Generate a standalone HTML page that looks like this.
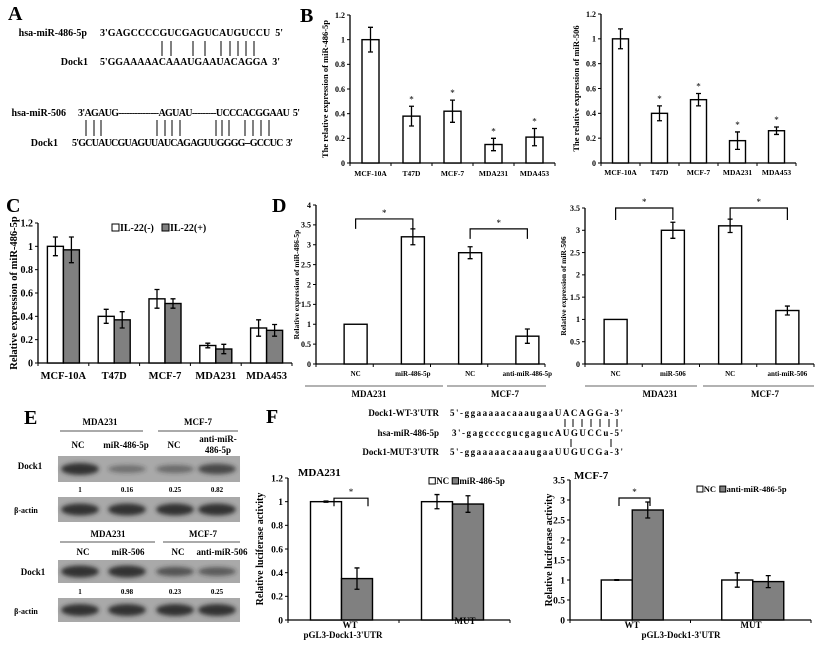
<!DOCTYPE html>
<html><head><meta charset="utf-8">
<style>
html,body{margin:0;padding:0;background:#fff;}
svg{display:block;font-family:"Liberation Serif",serif;font-weight:bold;}
</style></head>
<body>
<svg id="fig" width="819" height="646" viewBox="0 0 819 646" xmlns="http://www.w3.org/2000/svg">
<defs>
<filter id="blur" x="-30%" y="-60%" width="160%" height="220%"><feGaussianBlur stdDeviation="2.2"/></filter>
</defs>
<g font-size="20">
<text x="8" y="20">A</text>
<text x="300" y="22">B</text>
<text x="6" y="212">C</text>
<text x="272" y="212">D</text>
<text x="24" y="424">E</text>
<text x="266" y="423">F</text>
</g>
<g font-size="10">
<text x="87" y="36" text-anchor="end">hsa-miR-486-5p</text>
<text x="100" y="36" textLength="183">3'GAGCCCCGUCGAGUCAUGUCCU&#160;&#160;5'</text>
<text x="88" y="65" text-anchor="end">Dock1</text>
<text x="100" y="65" textLength="180">5'GGAAAAACAAAUGAAUACAGGA&#160;&#160;3'</text>
<text x="66" y="116" text-anchor="end">hsa-miR-506</text>
<text x="78" y="116" textLength="222">3'AGAUG---------------AGUAU---------UCCCACGGAAU&#160;&#160;5'</text>
<text x="58" y="146" text-anchor="end">Dock1</text>
<text x="72" y="146" textLength="221">5'GCUAUCGUAGUUAUCAGAGUUGGGG--GCCUC&#160;&#160;3'</text>
</g>
<g id="pairs" stroke="#000" stroke-width="1"></g>
<g id="charts"></g>
<g id="blots"></g>
<g font-size="9">
<text x="439" y="416" text-anchor="end">Dock1-WT-3'UTR</text>
<text x="450" y="416" textLength="173">5'-ggaaaaacaaaugaaUACAGGa-3'</text>
<text x="439" y="436" text-anchor="end">hsa-miR-486-5p</text>
<text x="452" y="436" textLength="171">3'-gagccccgucgagucAUGUCCu-5'</text>
<text x="439" y="455" text-anchor="end">Dock1-MUT-3'UTR</text>
<text x="450" y="455" textLength="173">5'-ggaaaaacaaaugaaUUGUCGa-3'</text>
</g>
</svg>
<script>
const bCats = ["MCF-10A","T47D","MCF-7","MDA231","MDA453"];
const b1Vals = [1, 0.38, 0.42, 0.15, 0.21];
const b1Errs = [0.1, 0.08, 0.09, 0.05, 0.07];
const b2Vals = [1, 0.40, 0.51, 0.18, 0.26];
const b2Errs = [0.08, 0.06, 0.05, 0.07, 0.03];
const bTicks = [0, 0.2, 0.4, 0.6, 0.8, 1, 1.2];
const bTickLabels = ["0","0.2","0.4","0.6","0.8","1","1.2"];

const cCats = ["MCF-10A","T47D","MCF-7","MDA231","MDA453"];
const cNegVals = [1, 0.40, 0.55, 0.15, 0.30];
const cNegErrs = [0.08, 0.06, 0.08, 0.02, 0.07];
const cPosVals = [0.97, 0.37, 0.51, 0.12, 0.28];
const cPosErrs = [0.11, 0.07, 0.04, 0.04, 0.05];

const d1Cats = ["NC","miR-486-5p","NC","anti-miR-486-5p"];
const d1Vals = [1, 3.2, 2.8, 0.7];
const d1Errs = [0, 0.2, 0.15, 0.18];
const d1Brackets = [3.65, 3.4];
const d1Ticks = [0,0.5,1,1.5,2,2.5,3,3.5,4];
const d1TickLabels = ["0","0.5","1","1.5","2","2.5","3","3.5","4"];
const d2Cats = ["NC","miR-506","NC","anti-miR-506"];
const d2Vals = [1, 3.0, 3.1, 1.2];
const d2Errs = [0, 0.18, 0.15, 0.1];
const d2Brackets = [3.5, 3.5];
const d2Ticks = [0,0.5,1,1.5,2,2.5,3,3.5];
const d2TickLabels = ["0","0.5","1","1.5","2","2.5","3","3.5"];

const fCats = ["WT","MUT"];
const f1NCVals = [1, 1];
const f1NCErrs = [0.005, 0.06];
const f1TrVals = [0.35, 0.98];
const f1TrErrs = [0.09, 0.07];
const f2NCVals = [1, 1];
const f2NCErrs = [0.01, 0.18];
const f2TrVals = [2.75, 0.96];
const f2TrErrs = [0.2, 0.15];
const fBracketLevels1 = [1.08];
const fBracketLevels2 = [3.0];

const blotLanes = ["NC","miR-486-5p","NC","anti-miR-486-5p"];
const dock1Top = [1, 0.3, 0.35, 0.75];
const dock1TopLabels = ["1","0.16","0.25","0.82"];
const dock1Bottom = [1, 1, 0.6, 0.5];
const dock1BottomLabels = ["1","0.98","0.23","0.25"];

const NS = "http://www.w3.org/2000/svg";
function mk(tag, attrs, parent){
  const e = document.createElementNS(NS, tag);
  for (const k in attrs) e.setAttribute(k, attrs[k]);
  if (parent) parent.appendChild(e);
  return e;
}
const charts = document.getElementById('charts');
const pairs = document.getElementById('pairs');

const pairRow1 = [162,171,193,205,221,230,238,246,254];
const pairRow2 = [86,94,101,157,165,172,180,216,222,229,245,253,261,269];
pairRow1.forEach(x=>{ const l=mk('line',{x1:x,x2:x,y1:41,y2:56},pairs);
  
   });
pairRow2.forEach(x=>{ const l=mk('line',{x1:x,x2:x,y1:120,y2:136},pairs);
  
   });
[565,573,582,591,600,609,617].forEach(x=>{ const l=mk('line',{x1:x,x2:x,y1:419,y2:427},pairs);
  
   });
[571,611].forEach(x=>{ const l=mk('line',{x1:x,x2:x,y1:439,y2:447},pairs);
  
   });

function chart(o){
  const g = mk('g',{},charts);
  
  
  const ymax = o.ticks[o.ticks.length-1];
  const Y = v => o.y0 - v/ymax*(o.y0-o.yTop);
  const n = o.cats.length;
  const band = (o.x1-o.x0)/n;
  const X = i => o.x0 + band*(i+0.5) + (o.shift||0);
  o.Y = Y; o.X = X;
  const ya = mk('line',{x1:o.x0,x2:o.x0,y1:o.yTop,y2:o.y0,stroke:'#000','stroke-width':1.3},g);
  
  
  o.ticks.forEach((t,i)=>{
    const tk = mk('line',{x1:o.x0-3,x2:o.x0,y1:Y(t),y2:Y(t),stroke:'#000','stroke-width':1},g);
    
    
    const tl = mk('text',{x:o.x0-5,y:Y(t)+o.tf*0.35,'text-anchor':'end','font-size':o.tf},g);
    tl.textContent = o.tickLabels[i];
    
    
  });
  const xa = mk('line',{x1:o.x0,x2:o.x1,y1:o.y0,y2:o.y0,stroke:'#000','stroke-width':1.3},g);
  
  
  for(let i=0;i<=n;i++){
    const tx = o.x0+band*i;
    const tk = mk('line',{x1:tx,x2:tx,y1:o.y0,y2:o.y0+3,stroke:'#000','stroke-width':1},g);
    
    
  }
  const ns = o.series.length;
  o.series.forEach((s,si)=>{
    const off = (si-(ns-1)/2)*o.barW;
    o.cats.forEach((c,i)=>{
      const cx = X(i)+off, v=s.vals[i], e=s.errs[i];
      const r = mk('rect',{x:cx-o.barW/2,y:Y(v),width:o.barW,height:o.y0-Y(v),fill:s.fill,stroke:'#000','stroke-width':1.4},g);
      
      
      if(e>0){
        const eb = mk('path',{d:`M${cx},${Y(v+e)}V${Y(v-e)}M${cx-2.5},${Y(v+e)}H${cx+2.5}M${cx-2.5},${Y(v-e)}H${cx+2.5}`,stroke:'#000','stroke-width':1.3,fill:'none'},g);
        
        
      }
      if(o.stars && i>0){
        const st = mk('text',{x:cx,y:Y(v+e)-4,'text-anchor':'middle','font-size':9,'font-weight':'normal'},g);
        st.textContent='*';
        
        
      }
    });
  });
  if(o.catY){
    o.cats.forEach((c,i)=>{
      const t = mk('text',{x:X(i),y:o.catY,'text-anchor':'middle','font-size':o.cf},g);
      t.textContent=c;
      
      
    });
  }
  const yl = mk('text',{x:o.ylX,y:(o.y0+o.yTop)/2,'text-anchor':'middle','font-size':o.yf,transform:`rotate(-90 ${o.ylX} ${(o.y0+o.yTop)/2})`},g);
  yl.textContent=o.ylabel;
  
  
  return {g, o};
}
function bracket(g, xa, xb, y, yEndA, yEndB){
  const p = mk('path',{d:`M${xa},${yEndA}V${y}H${xb}V${yEndB}`,stroke:'#000','stroke-width':1.2,fill:'none'},g);
  
  
  const s = mk('text',{x:(xa+xb)/2,y:y-3,'text-anchor':'middle','font-size':9,'font-weight':'normal'},g);
  s.textContent='*';
  
  
}
function txt(g,x,y,s,size,name,anchor){
  const t = mk('text',{x:x,y:y,'text-anchor':anchor||'middle','font-size':size},g);
  t.textContent=s;
  
  
  return t;
}
function legend(g,x,y,items,size){
  let cx=x;
  items.forEach(it=>{
    const r = mk('rect',{x:cx,y:y-size*0.7,width:size*0.7,height:size*0.7,fill:it.fill,stroke:'#000','stroke-width':1},g);
    
    
    txt(g,cx+size*0.8,y,it.label,size,'legend-entry','start');
    cx += size*0.8 + it.w;
  });
}

chart({name:'chart-b-mir486',x0:350,x1:555,y0:163,yTop:15,ticks:bTicks,tickLabels:bTickLabels,tf:8,cats:bCats,
  series:[{vals:b1Vals,errs:b1Errs,fill:'#fff',key:'expr'}],barW:17,catY:176,cf:7.5,stars:true,
  ylabel:'The relative expression of miR-486-5p',ylX:328,yf:8.5});
chart({name:'chart-b-mir506',x0:601,x1:796,y0:163,yTop:14,ticks:bTicks,tickLabels:bTickLabels,tf:8,cats:bCats,
  series:[{vals:b2Vals,errs:b2Errs,fill:'#fff',key:'expr'}],barW:16,catY:175,cf:7.5,stars:true,
  ylabel:'The relative expression of miR-506',ylX:579,yf:8.5});
const cc = chart({name:'chart-c-il22',x0:38,x1:292,y0:363,yTop:223,ticks:bTicks,tickLabels:bTickLabels,tf:10,cats:cCats,
  series:[{vals:cNegVals,errs:cNegErrs,fill:'#fff',key:'il22-neg'},{vals:cPosVals,errs:cPosErrs,fill:'#808080',key:'il22-pos'}],barW:16,catY:379,cf:10.5,
  ylabel:'Relative expression of miR-486-5p',ylX:17,yf:10.5});
legend(cc.g,112,231,[{fill:'#fff',label:'IL-22(-)',w:42},{fill:'#808080',label:'IL-22(+)',w:40}],10);
const d1 = chart({name:'chart-d-mir486',x0:316,x1:545,y0:364,yTop:205,ticks:d1Ticks,tickLabels:d1TickLabels,tf:8,cats:d1Cats,
  series:[{vals:d1Vals,errs:d1Errs,fill:'#fff',key:'expr'}],barW:23,shift:11,catY:376,cf:7,
  ylabel:'Relative expression of miR-486-5p',ylX:299,yf:7.5});
bracket(d1.g, d1.o.X(0), d1.o.X(1), d1.o.Y(d1Brackets[0]), d1.o.Y(d1Brackets[0])+10, d1.o.Y(d1Brackets[0])+10);
bracket(d1.g, d1.o.X(2), d1.o.X(3), d1.o.Y(d1Brackets[1]), d1.o.Y(d1Brackets[1])+10, d1.o.Y(d1Brackets[1])+10);
[[305,443],[447,546]].forEach(s=>{const l=mk('line',{x1:s[0],x2:s[1],y1:386,y2:386,stroke:'#666','stroke-width':1},d1.g);
  
  });
txt(d1.g,369,397,'MDA231',9,'group-label');
txt(d1.g,505,397,'MCF-7',9,'group-label');
const d2 = chart({name:'chart-d-mir506',x0:585,x1:814,y0:364,yTop:208,ticks:d2Ticks,tickLabels:d2TickLabels,tf:8,cats:d2Cats,
  series:[{vals:d2Vals,errs:d2Errs,fill:'#fff',key:'expr'}],barW:23,shift:2,catY:376,cf:7,
  ylabel:'Relative expression of miR-506',ylX:566,yf:7.5});
bracket(d2.g, d2.o.X(0), d2.o.X(1), d2.o.Y(d2Brackets[0]), d2.o.Y(d2Brackets[0])+12, d2.o.Y(d2Brackets[0])+12);
bracket(d2.g, d2.o.X(2), d2.o.X(3), d2.o.Y(d2Brackets[1]), d2.o.Y(d2Brackets[1])+12, d2.o.Y(d2Brackets[1])+12);
[[585,697],[703,814]].forEach(s=>{const l=mk('line',{x1:s[0],x2:s[1],y1:386,y2:386,stroke:'#666','stroke-width':1},d2.g);
  
  });
txt(d2.g,660,397,'MDA231',9,'group-label');
txt(d2.g,765,397,'MCF-7',9,'group-label');
const f1 = chart({name:'chart-f-mda231',x0:288,x1:510,y0:620,yTop:478,ticks:bTicks,tickLabels:bTickLabels,tf:9.5,cats:fCats,
  series:[{vals:f1NCVals,errs:f1NCErrs,fill:'#fff',key:'nc'},{vals:f1TrVals,errs:f1TrErrs,fill:'#808080',key:'mir486'}],barW:31,shift:-2,
  ylabel:'Relative luciferase activity',ylX:263,yf:10});
txt(f1.g,350,628,'WT',9,'x-category-label');
txt(f1.g,465,624,'MUT',9,'x-category-label');
txt(f1.g,343,638,"pGL3-Dock1-3'UTR",9,'x-axis-title');
txt(f1.g,298,476,'MDA231',11,'chart-title','start');
legend(f1.g,429,484,[{fill:'#fff',label:'NC',w:16},{fill:'#808080',label:'miR-486-5p',w:50}],9);
bracket(f1.g, 334, 368, f1.o.Y(fBracketLevels1[0])+6, f1.o.Y(fBracketLevels1[0])+14, f1.o.Y(fBracketLevels1[0])+14);
const f2 = chart({name:'chart-f-mcf7',x0:570,x1:811,y0:620,yTop:480,ticks:d2Ticks,tickLabels:d2TickLabels,tf:9.5,cats:fCats,
  series:[{vals:f2NCVals,errs:f2NCErrs,fill:'#fff',key:'nc'},{vals:f2TrVals,errs:f2TrErrs,fill:'#808080',key:'anti-mir486'}],barW:31,shift:2,
  ylabel:'Relative  luciferase activity',ylX:552,yf:10});
txt(f2.g,632,628,'WT',9,'x-category-label');
txt(f2.g,751,628,'MUT',9,'x-category-label');
txt(f2.g,681,638,"pGL3-Dock1-3'UTR",9,'x-axis-title');
txt(f2.g,574,479,'MCF-7',11,'chart-title','start');
legend(f2.g,697,492,[{fill:'#fff',label:'NC',w:16},{fill:'#808080',label:'anti-miR-486-5p',w:60}],8.5);
bracket(f2.g, 619, 650, f2.o.Y(fBracketLevels2[0])-2, f2.o.Y(fBracketLevels2[0])+6, f2.o.Y(fBracketLevels2[0])+6);

const blots = document.getElementById('blots');


const laneX = [80,127,175,217];
function blot(y, h, intens, name){
  const r = mk('rect',{x:58,y:y,width:182,height:h,fill:'#a9a9a9'},blots);
  
  
  intens.forEach((v,i)=>{
    const e = mk('ellipse',{cx:laneX[i],cy:y+h/2,rx:19,ry:3+3*v,fill:'#2a2a2a','fill-opacity':0.25+0.7*v,filter:'url(#blur)'},blots);
    
    
  });
}
txt(blots,100,425,'MDA231',9,'group-label');
txt(blots,198,425,'MCF-7',9,'group-label');
[[60,143],[158,238]].forEach(s=>{const l=mk('line',{x1:s[0],x2:s[1],y1:431,y2:431,stroke:'#555','stroke-width':1},blots);
  
  });
txt(blots,78,448,'NC',9,'lane-label');
txt(blots,126,448,'miR-486-5p',9,'lane-label');
txt(blots,174,448,'NC',9,'lane-label');
txt(blots,218,442,'anti-miR-',9,'lane-label');
txt(blots,218,453,'486-5p',9,'lane-label');
blot(456,26,dock1Top,'dock1-top');
txt(blots,30,469,'Dock1',9,'row-label','middle');
dock1TopLabels.forEach((s,i)=>txt(blots,laneX[i],492,s,7,'quantification-label'));
blot(497,25,[1,1,1,1],'actin-top');
txt(blots,26,513,'β-actin',8,'row-label','middle');
txt(blots,108,537,'MDA231',9,'group-label');
txt(blots,203,537,'MCF-7',9,'group-label');
[[60,155],[163,240]].forEach(s=>{const l=mk('line',{x1:s[0],x2:s[1],y1:542,y2:542,stroke:'#555','stroke-width':1},blots);
  
  });
txt(blots,83,555,'NC',9,'lane-label');
txt(blots,128,555,'miR-506',9,'lane-label');
txt(blots,178,555,'NC',9,'lane-label');
txt(blots,222,555,'anti-miR-506',9,'lane-label');
blot(560,23,dock1Bottom,'dock1-bottom');
txt(blots,33,575,'Dock1',9,'row-label','middle');
dock1BottomLabels.forEach((s,i)=>txt(blots,laneX[i],594,s,7,'quantification-label'));
blot(598,24,[1,1,1,1],'actin-bottom');
txt(blots,26,614,'β-actin',8,'row-label','middle');
</script>
</body></html>
